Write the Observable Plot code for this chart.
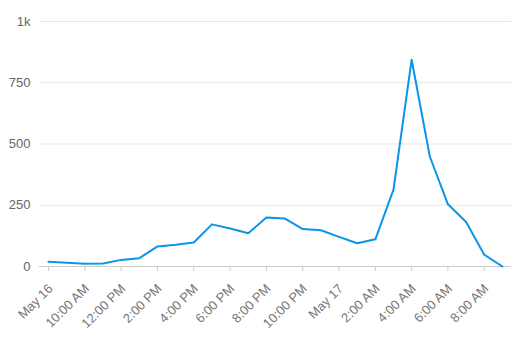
<!DOCTYPE html>
<html>
<head>
<meta charset="utf-8">
<script src="https://cdn.jsdelivr.net/npm/d3@7"></script>
<script src="https://cdn.jsdelivr.net/npm/@observablehq/plot@0.6"></script>
<style>
  html, body { margin: 0; padding: 0; background: #fff; }
</style>
</head>
<body>
<div id="chart"></div>
<script>
// Hourly values, May 16 08:00 through May 17 09:00
const startHour = [2023, 4, 16, 8];
const values = [19, 15, 11, 12, 27, 34, 82, 89, 98, 172, 155, 136, 200, 196, 153, 148, 121, 95, 111, 314, 844, 449, 254, 182, 48, 0];
const yTicks = [0, 250, 500, 750, 1000];
const yTickLabels = ["0", "250", "500", "750", "1k"];

const t0 = new Date(startHour[0], startHour[1], startHour[2], startHour[3]);
const hour = 3600 * 1000;
const data = values.map((v, i) => ({time: new Date(+t0 + i * hour), value: v}));
const xTicks = d3.range(0, 25, 2).map(i => new Date(+t0 + i * hour));
const fmtDate = d3.timeFormat("%b %-d");
const fmtTime = d3.timeFormat("%-I:%M %p");

const chart = Plot.plot({
  width: 515,
  height: 339,
  marginTop: 21,
  marginBottom: 73,
  marginLeft: 39,
  marginRight: 4,
  style: {fontFamily: "'Liberation Sans', Arial, sans-serif", background: "#fff"},
  x: {type: "time", domain: [new Date(+t0 - hour / 2), new Date(+t0 + 25.5 * hour)]},
  y: {domain: [0, 1000]},
  marks: [
    Plot.gridY(yTicks.slice(1), {stroke: "#e6e6e6", strokeOpacity: 1}),
    Plot.axisY(yTicks, {
      tickSize: 0, tickPadding: 9, fontSize: 13, fill: "#666",
      tickFormat: d => yTickLabels[yTicks.indexOf(d)], label: null
    }),
    Plot.ruleY([0], {stroke: "#ccc", strokeWidth: 1}),
    Plot.axisX(xTicks, {tickSize: 5, stroke: "#ccc", tickFormat: () => "", label: null}),
    Plot.axisX(xTicks, {
      tickSize: 0, tickRotate: -45, fontSize: 13, fill: "#777",
      tickPadding: 20, dx: 2, label: null,
      tickFormat: (d, i) => (i === 0 || d.getHours() === 0) ? fmtDate(d) : fmtTime(d)
    }),
    Plot.line(data, {x: "time", y: "value", stroke: "#0a96e8", strokeWidth: 2})
  ]
});
document.getElementById("chart").append(chart);
</script>
</body>
</html>
